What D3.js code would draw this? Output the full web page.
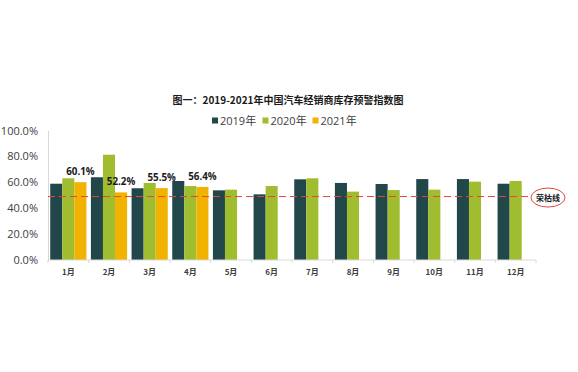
<!DOCTYPE html>
<html>
<head>
<meta charset="utf-8">
<script src="https://cdn.jsdelivr.net/npm/d3@7"></script>
<style>
body { margin:0; background:#fff; }
svg { display:block; font-family:"Open Sans","Noto Sans CJK SC",sans-serif; }
</style>
</head>
<body>
<svg width="578" height="372"></svg>
<script>
var months = ["1月","2月","3月","4月","5月","6月","7月","8月","9月","10月","11月","12月"]
var seriesNames = ["2019年","2020年","2021年"]
var v2019 = [58.9,63.9,55.4,61.0,53.8,50.7,62.3,59.5,58.7,62.5,62.5,58.9]
var v2020 = [63.1,81.3,59.5,57.1,54.3,57.1,63.1,52.8,54.0,54.3,60.5,61.0]
var v2021 = [60.1,52.2,55.5,56.4]
var yTicks = [0,20,40,60,80,100]
var warnLine = 49
var colors = ["#22474a","#9fbd2f","#f2b200"]

var svg = d3.select("svg")
var margins = {left:48,right:42,top:130.5,bottom:112}
var graph = {width:578-margins.left-margins.right, height:372-margins.top-margins.bottom}

var xScale = d3.scaleBand().domain(months).range([0,graph.width]).paddingInner(0.11).paddingOuter(0.055)
var x1 = d3.scaleBand().domain(seriesNames).range([0,xScale.bandwidth()])
var yScale = d3.scaleLinear().domain([0,100]).range([graph.height,0])

var target = svg.append("g")
    .attr("transform","translate("+margins.left+","+margins.top+")")

// title
svg.append("text")
    .text("图一：2019-2021年中国汽车经销商库存预警指数图")
    .attr("x",288).attr("y",104)
    .attr("text-anchor","middle")
    .attr("font-size",10).attr("font-weight","bold")
    .attr("fill","#1a1a1a")
    .style("font-family","'Noto Sans CJK SC',sans-serif")

// legend
var legend = svg.append("g").attr("transform","translate(212,121)")
var legX = [0,50.5,100.5]
seriesNames.forEach(function(name,i){
    var g = legend.append("g").attr("transform","translate("+legX[i]+",0)")
    g.append("rect").attr("x",0).attr("y",-3.5).attr("width",6).attr("height",6).attr("fill",colors[i])
    g.append("text").text(name).attr("x",8).attr("y",4)
        .attr("font-size",11).attr("fill","#404040")
})

// y axis
var yAxis = d3.axisLeft(yScale).tickValues(yTicks).tickSize(0).tickPadding(10)
    .tickFormat(function(d){return d.toFixed(1)+"%"})
var yg = target.append("g").call(yAxis)
yg.select(".domain").attr("stroke","#d9d9d9")
yg.selectAll("text").attr("font-size",11).attr("fill","#404040")
    .style("font-family","'Open Sans',sans-serif")

// bars
var series = [v2019,v2020,v2021]
series.forEach(function(vals,si){
    target.selectAll(".bar"+si)
        .data(vals)
        .enter()
        .append("rect")
        .attr("x",function(d,i){return xScale(months[i])+x1(seriesNames[si])})
        .attr("y",function(d){return yScale(d)})
        .attr("width",x1.bandwidth())
        .attr("height",function(d){return graph.height-yScale(d)})
        .attr("fill",colors[si])
})

// labels for 2021
target.selectAll(".lbl")
    .data(v2021)
    .enter()
    .append("text")
    .text(function(d){return d.toFixed(1)+"%"})
    .attr("x",function(d,i){return xScale(months[i])+x1("2021年")+x1.bandwidth()/2})
    .attr("y",function(d){return yScale(d)-7})
    .attr("text-anchor","middle")
    .attr("font-size",9.8).attr("font-weight","bold").attr("fill","#1a1a1a")

// x axis
var xg = target.append("g").attr("transform","translate(0,"+graph.height+")")
xg.append("line").attr("x1",0).attr("x2",graph.width).attr("stroke","#d9d9d9")
var edges = d3.range(months.length+1).map(function(i){return i*graph.width/months.length})
xg.selectAll(".tk").data(edges).enter().append("line")
    .attr("x1",function(d){return d}).attr("x2",function(d){return d})
    .attr("y1",0).attr("y2",3).attr("stroke","#d9d9d9")
xg.selectAll(".ml").data(months).enter().append("text")
    .text(function(d){return d})
    .attr("x",function(d){return xScale(d)+xScale.bandwidth()/2})
    .attr("y",15)
    .attr("text-anchor","middle")
    .attr("font-size",8).attr("font-weight","bold").attr("fill","#404040")
    .style("font-family","'Noto Sans CJK SC',sans-serif")

// warning line
var wy = yScale(warnLine)
target.append("line")
    .attr("x1",0).attr("x2",483).attr("y1",wy).attr("y2",wy)
    .attr("stroke","#e8453c").attr("stroke-width",1).attr("stroke-dasharray","7,4")
target.append("ellipse")
    .attr("cx",500).attr("cy",wy+1).attr("rx",17).attr("ry",9.5)
    .attr("fill","#fff").attr("stroke","#e8453c").attr("stroke-width",1)
target.append("text").text("荣枯线")
    .attr("x",500).attr("y",wy+4)
    .attr("text-anchor","middle")
    .attr("font-size",8).attr("font-weight","bold").attr("fill","#1a1a1a")
    .style("font-family","'Noto Sans CJK SC',sans-serif")
</script>
</body>
</html>
